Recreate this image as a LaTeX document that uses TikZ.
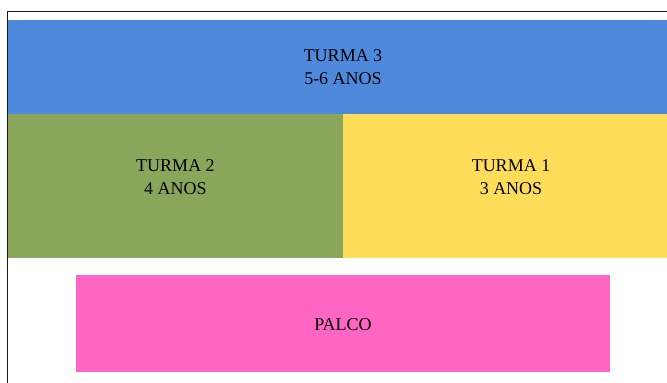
\documentclass[tikz,border=0pt]{standalone}
\usepackage{fontspec}
\setmainfont{Liberation Serif}
\definecolor{tblue}{HTML}{4E89DB}
\definecolor{tgreen}{HTML}{8AA65A}
\definecolor{tyellow}{HTML}{FFDD5A}
\definecolor{tpink}{HTML}{FF66C3}
\tikzset{
  zone/.style={draw=none},
  lbl/.style={align=center, font=\fontsize{18}{23}\selectfont, inner sep=0pt},
  frame/.style={line width=1pt, draw=black!90}
}
\begin{document}
\begin{tikzpicture}[x=1pt,y=-1pt]
\useasboundingbox (0,0) rectangle (667,383);
\begin{scope}
\clip (0,0) rectangle (667,383);
\fill[white] (0,0) rectangle (667,383);
\fill[zone, tblue] (8,20) rectangle (679,114);
\fill[zone, tgreen] (8,114) rectangle (343,258);
\fill[zone, tyellow] (343,114) rectangle (679,258);
\fill[zone, tpink] (76,275) rectangle (610,372);
\draw[frame] (7.5,390) -- (7.5,11.5) -- (680,11.5);
\end{scope}
\node[lbl] (t3) at (343,67) {TURMA 3\\5-6 ANOS};
\node[lbl] (t2) at (175.5,177) {TURMA 2\\4 ANOS};
\node[lbl] (t1) at (511,177) {TURMA 1\\3 ANOS};
\node[lbl] (palco) at (343,325) {PALCO};
\end{tikzpicture}
\end{document}
